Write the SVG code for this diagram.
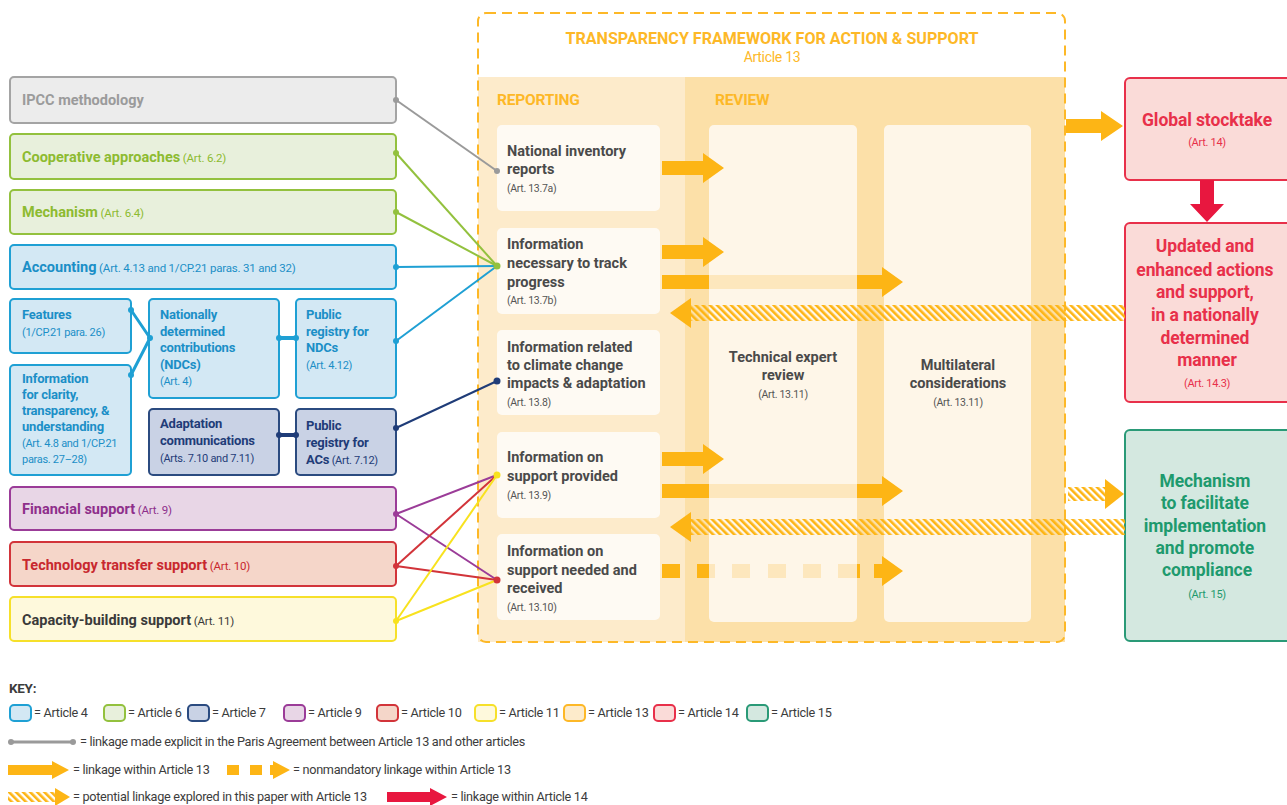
<svg xmlns="http://www.w3.org/2000/svg" width="1287" height="805" viewBox="0 0 1287 805">
  <defs>
    <style>
      text { font-family: Roboto, "Liberation Sans", "DejaVu Sans", sans-serif; }
      .b { font-weight: 700; }
      .lbl { font-size: 14.5px; font-weight: 700; letter-spacing: 0px; }
      .sm { font-size: 11.5px; font-weight: 400; letter-spacing: -0.2px; }
      .rep { font-size: 14.5px; font-weight: 700; letter-spacing: 0px; fill: #4a4a4a; }
      .repsm { font-size: 10.5px; font-weight: 400; letter-spacing: -0.3px; fill: #555; }
      .nb { font-size: 13px; font-weight: 700; letter-spacing: -0.2px; }
      .ns { font-size: 11px; font-weight: 400; letter-spacing: -0.3px; }
      .big { font-size: 17.5px; font-weight: 700; letter-spacing: -0.1px; }
      .blu { fill: #1b8fc7; }
      .nav { fill: #1f3c78; }
      .key { font-size: 12.7px; letter-spacing: -0.3px; fill: #3c3c3c; }
      .box { stroke-width: 2; }
      .gray { fill: #ececec; stroke: #a4a4a4; }
      .green { fill: #e8f0dc; stroke: #93c13e; }
      .blue { fill: #d3e8f4; stroke: #1fa0d4; }
      .navy { fill: #c9d2e5; stroke: #2b4b80; }
      .purple { fill: #e8d6e6; stroke: #9b3c98; }
      .red { fill: #f5d6c9; stroke: #d2343a; }
      .yellow { fill: #fef9dc; stroke: #f6e02a; }
      .orangeK { fill: #fdebcb; stroke: #fdb827; }
      .pink { fill: #fadbd8; stroke: #e8304a; }
      .teal { fill: #d4e8e0; stroke: #2a9a77; }
      .arr { fill: #fdb515; }
      .fade { fill: #fde7bd; }
      .hatch { fill: url(#hatch); }
      .redarr { fill: #e8173f; }
      .card { fill: #fefaf3; }
      .rcard { fill: #fef6e8; }
    </style>
    <pattern id="hatch" width="5" height="5" patternUnits="userSpaceOnUse" patternTransform="rotate(-45)">
      <rect x="0" y="0" width="2.6" height="5" fill="#fdb515"/>
    </pattern>
  </defs>

  <rect width="1287" height="805" fill="#ffffff"/>

  <!-- Article 13 framework -->
  <g id="framework">
    <rect x="478" y="77" width="207" height="565" fill="#fdebcb"/>
    <rect x="685" y="77" width="380" height="565" fill="#fce0a8"/>
    <rect x="478" y="13" width="587" height="629" rx="8" fill="none" stroke="#fdb827" stroke-width="2" stroke-dasharray="10 6"/>
    <text x="772" y="44" text-anchor="middle" class="b" font-size="16" fill="#fdb827" textLength="413" lengthAdjust="spacingAndGlyphs">TRANSPARENCY FRAMEWORK FOR ACTION &amp; SUPPORT</text>
    <text x="772" y="62" text-anchor="middle" font-size="14" letter-spacing="-0.3" fill="#fdb827">Article 13</text>
    <text x="497" y="105" class="b" font-size="15.5" fill="#fdb827" letter-spacing="-0.2">REPORTING</text>
    <text x="715" y="105" class="b" font-size="15.5" fill="#fdb827" letter-spacing="-0.2">REVIEW</text>
  </g>

  <!-- review bodies -->
  <g id="technical-expert-review">
    <rect x="709" y="125" width="148" height="497" rx="5" class="rcard"/>
    <text x="783" y="362" text-anchor="middle" class="rep">Technical expert</text>
    <text x="783" y="380" text-anchor="middle" class="rep">review</text>
    <text x="783" y="398" text-anchor="middle" class="repsm">(Art. 13.11)</text>
  </g>
  <g id="multilateral-considerations">
    <rect x="884" y="125" width="147" height="497" rx="5" class="rcard"/>
    <text x="958" y="370" text-anchor="middle" class="rep">Multilateral</text>
    <text x="958" y="388" text-anchor="middle" class="rep">considerations</text>
    <text x="958" y="406" text-anchor="middle" class="repsm">(Art. 13.11)</text>
  </g>

  <!-- reporting items -->
  <g id="national-inventory">
    <rect x="497" y="125" width="163" height="86" rx="5" class="card"/>
    <text x="507" y="156" class="rep">National inventory</text>
    <text x="507" y="174" class="rep">reports</text>
    <text x="507" y="192" class="repsm">(Art. 13.7a)</text>
  </g>
  <g id="track-progress">
    <rect x="497" y="228" width="163" height="86" rx="5" class="card"/>
    <text x="507" y="249" class="rep">Information</text>
    <text x="507" y="268" class="rep">necessary to track</text>
    <text x="507" y="287" class="rep">progress</text>
    <text x="507" y="304" class="repsm">(Art. 13.7b)</text>
  </g>
  <g id="impacts-adaptation">
    <rect x="497" y="330" width="163" height="85" rx="5" class="card"/>
    <text x="507" y="352" class="rep">Information related</text>
    <text x="507" y="370" class="rep">to climate change</text>
    <text x="507" y="388" class="rep">impacts &amp; adaptation</text>
    <text x="507" y="406" class="repsm">(Art. 13.8)</text>
  </g>
  <g id="support-provided">
    <rect x="497" y="432" width="163" height="86" rx="5" class="card"/>
    <text x="507" y="462" class="rep">Information on</text>
    <text x="507" y="481" class="rep">support provided</text>
    <text x="507" y="499" class="repsm">(Art. 13.9)</text>
  </g>
  <g id="support-needed">
    <rect x="497" y="534" width="163" height="86" rx="5" class="card"/>
    <text x="507" y="556" class="rep">Information on</text>
    <text x="507" y="575" class="rep">support needed and</text>
    <text x="507" y="593" class="rep">received</text>
    <text x="507" y="611" class="repsm">(Art. 13.10)</text>
  </g>

  <!-- left-hand articles -->
  <g id="ipcc">
    <rect x="10" y="77" width="386" height="46" rx="4" class="box gray"/>
    <text x="22" y="105" class="lbl" fill="#9b9b9b">IPCC methodology</text>
  </g>
  <g id="cooperative-approaches">
    <rect x="10" y="134" width="386" height="45" rx="4" class="box green"/>
    <text x="22" y="162" fill="#8dbb30"><tspan class="lbl">Cooperative approaches</tspan><tspan class="sm"> (Art. 6.2)</tspan></text>
  </g>
  <g id="mechanism-64">
    <rect x="10" y="190" width="386" height="44" rx="4" class="box green"/>
    <text x="22" y="217" fill="#8dbb30"><tspan class="lbl">Mechanism</tspan><tspan class="sm"> (Art. 6.4)</tspan></text>
  </g>
  <g id="accounting">
    <rect x="10" y="245" width="386" height="44" rx="4" class="box blue"/>
    <text x="22" y="272" class="blu"><tspan class="lbl">Accounting</tspan><tspan class="sm"> (Art. 4.13 and 1/CP.21 paras. 31 and 32)</tspan></text>
  </g>
  <g id="features">
    <rect x="10" y="299" width="121" height="54" rx="4" class="box blue"/>
    <text x="22" y="319" class="blu nb">Features</text>
    <text x="22" y="336" class="blu ns">(1/CP.21 para. 26)</text>
  </g>
  <g id="clarity">
    <rect x="10" y="365" width="121" height="110" rx="4" class="box blue"/>
    <text class="blu nb">
      <tspan x="22" y="383">Information</tspan>
      <tspan x="22" y="399">for clarity,</tspan>
      <tspan x="22" y="415">transparency, &amp;</tspan>
      <tspan x="22" y="431">understanding</tspan>
    </text>
    <text class="blu ns">
      <tspan x="22" y="447">(Art. 4.8 and 1/CP.21</tspan>
      <tspan x="22" y="463">paras. 27–28)</tspan>
    </text>
  </g>
  <g id="ndcs">
    <rect x="149" y="299" width="130" height="99" rx="4" class="box blue"/>
    <text class="blu nb">
      <tspan x="160" y="319">Nationally</tspan>
      <tspan x="160" y="336">determined</tspan>
      <tspan x="160" y="352">contributions</tspan>
      <tspan x="160" y="369">(NDCs)</tspan>
    </text>
    <text x="160" y="385" class="blu ns">(Art. 4)</text>
  </g>
  <g id="registry-ndcs">
    <rect x="296" y="299" width="100" height="99" rx="4" class="box blue"/>
    <text class="blu nb">
      <tspan x="306" y="319">Public</tspan>
      <tspan x="306" y="336">registry for</tspan>
      <tspan x="306" y="352">NDCs</tspan>
    </text>
    <text x="306" y="369" class="blu ns">(Art. 4.12)</text>
  </g>
  <g id="adaptation-communications">
    <rect x="149" y="409" width="130" height="66" rx="4" class="box navy"/>
    <text class="nav nb">
      <tspan x="160" y="428">Adaptation</tspan>
      <tspan x="160" y="445">communications</tspan>
    </text>
    <text x="160" y="462" class="nav ns">(Arts. 7.10 and 7.11)</text>
  </g>
  <g id="registry-acs">
    <rect x="296" y="409" width="100" height="66" rx="4" class="box navy"/>
    <text class="nav nb">
      <tspan x="306" y="430">Public</tspan>
      <tspan x="306" y="447">registry for</tspan>
    </text>
    <text x="306" y="464" class="nav"><tspan class="nb">ACs</tspan><tspan class="ns"> (Art. 7.12)</tspan></text>
  </g>
  <g id="financial-support">
    <rect x="10" y="487" width="386" height="43" rx="4" class="box purple"/>
    <text x="22" y="514" fill="#8e2f8b"><tspan class="lbl">Financial support</tspan><tspan class="sm"> (Art. 9)</tspan></text>
  </g>
  <g id="technology-transfer">
    <rect x="10" y="542" width="386" height="44" rx="4" class="box red"/>
    <text x="22" y="570" fill="#c8282e"><tspan class="lbl">Technology transfer support</tspan><tspan class="sm"> (Art. 10)</tspan></text>
  </g>
  <g id="capacity-building">
    <rect x="10" y="597" width="386" height="44" rx="4" class="box yellow"/>
    <text x="22" y="625" fill="#3a3a3a"><tspan class="lbl">Capacity-building support</tspan><tspan class="sm"> (Art. 11)</tspan></text>
  </g>

  <!-- right-hand articles -->
  <g id="global-stocktake">
    <rect x="1125" y="78" width="170" height="102" rx="5" class="box pink"/>
    <text x="1207" y="126" text-anchor="middle" class="big" fill="#e8304a">Global stocktake</text>
    <text x="1207" y="146" text-anchor="middle" font-size="11" letter-spacing="-0.3" fill="#e8304a">(Art. 14)</text>
  </g>
  <g id="updated-actions">
    <rect x="1125" y="223" width="170" height="179" rx="5" class="box pink"/>
    <text text-anchor="middle" class="big" fill="#e8304a">
      <tspan x="1207" y="252">Updated and</tspan>
      <tspan x="1207" y="276">enhanced actions</tspan>
      <tspan x="1207" y="298">and support,</tspan>
      <tspan x="1207" y="321">in a nationally</tspan>
      <tspan x="1207" y="344">determined</tspan>
      <tspan x="1207" y="366">manner</tspan>
    </text>
    <text x="1207" y="387" text-anchor="middle" font-size="11" letter-spacing="-0.3" fill="#e8304a">(Art. 14.3)</text>
  </g>
  <g id="compliance-mechanism">
    <rect x="1125" y="430" width="170" height="211" rx="5" class="box teal"/>
    <text text-anchor="middle" class="big" fill="#1e9a6e">
      <tspan x="1207" y="487">Mechanism</tspan>
      <tspan x="1207" y="509">to facilitate</tspan>
      <tspan x="1207" y="532">implementation</tspan>
      <tspan x="1207" y="554">and promote</tspan>
      <tspan x="1207" y="576">compliance</tspan>
    </text>
    <text x="1207" y="598" text-anchor="middle" font-size="11" letter-spacing="-0.3" fill="#1e9a6e">(Art. 15)</text>
  </g>

  <!-- connectors -->
  <g id="connectors" stroke-width="2" fill="none">
    <line x1="396" y1="100" x2="497" y2="171" stroke="#9a9a9a"/>
    <line x1="396" y1="153" x2="497" y2="266" stroke="#93c13e"/>
    <line x1="396" y1="212" x2="497" y2="266" stroke="#93c13e"/>
    <line x1="396" y1="267" x2="497" y2="266" stroke="#1fa0d4"/>
    <line x1="396" y1="341" x2="497" y2="266" stroke="#1fa0d4"/>
    <line x1="396" y1="428" x2="497" y2="381" stroke="#1f3c78"/>
    <polyline points="131,310 150,338 131,375" stroke="#1fa0d4" stroke-width="3"/>
    <line x1="279" y1="338" x2="296" y2="338" stroke="#1fa0d4" stroke-width="4"/>
    <line x1="279" y1="435" x2="296" y2="435" stroke="#1f3c78" stroke-width="4"/>
    <line x1="396" y1="514" x2="497" y2="475" stroke="#9b3c98"/>
    <line x1="396" y1="514" x2="497" y2="580" stroke="#9b3c98"/>
    <line x1="396" y1="566" x2="497" y2="475" stroke="#d2343a"/>
    <line x1="396" y1="566" x2="497" y2="580" stroke="#d2343a"/>
    <line x1="396" y1="621" x2="497" y2="475" stroke="#f8e21e"/>
    <line x1="396" y1="621" x2="497" y2="580" stroke="#f8e21e"/>
    <g stroke="none">
      <circle cx="396" cy="100" r="3" fill="#9a9a9a"/>
      <circle cx="497" cy="171" r="3" fill="#9a9a9a"/>
      <circle cx="396" cy="153" r="3" fill="#93c13e"/>
      <circle cx="396" cy="212" r="3" fill="#93c13e"/>
      <circle cx="497" cy="266" r="3.5" fill="#93c13e"/>
      <circle cx="396" cy="267" r="3" fill="#1fa0d4"/>
      <circle cx="396" cy="341" r="3" fill="#1fa0d4"/>
      <circle cx="131" cy="310" r="3" fill="#1fa0d4"/>
      <circle cx="131" cy="375" r="3" fill="#1fa0d4"/>
      <circle cx="150" cy="338" r="3" fill="#1fa0d4"/>
      <circle cx="279" cy="338" r="3" fill="#1fa0d4"/>
      <circle cx="296" cy="338" r="3" fill="#1fa0d4"/>
      <circle cx="279" cy="435" r="3" fill="#1f3c78"/>
      <circle cx="296" cy="435" r="3" fill="#1f3c78"/>
      <circle cx="396" cy="428" r="3" fill="#1f3c78"/>
      <circle cx="497" cy="381" r="3.5" fill="#1f3c78"/>
      <circle cx="396" cy="514" r="3" fill="#9b3c98"/>
      <circle cx="396" cy="566" r="3" fill="#d2343a"/>
      <circle cx="396" cy="621" r="3" fill="#f8e21e"/>
      <circle cx="497" cy="475" r="3.5" fill="#f8e21e"/>
      <circle cx="497" cy="580" r="3.5" fill="#d2343a"/>
    </g>

    <!-- linkages within Article 13 -->
    <g stroke="none">
      <path class="arr" d="M662,161 H703 V153 L724,168 L703,183 V175 H662 Z"/>
      <path class="arr" d="M662,245 H703 V237 L724,252 L703,267 V259 H662 Z"/>
      <rect class="arr" x="662" y="275" width="47" height="14"/>
      <rect class="fade" x="709" y="275" width="148" height="14"/>
      <path class="arr" d="M857,275 H882 V267 L903,282 L882,297 V289 H857 Z"/>
      <path class="arr" d="M662,452 H703 V444 L724,459 L703,474 V466 H662 Z"/>
      <rect class="arr" x="662" y="484" width="47" height="14"/>
      <rect class="fade" x="709" y="484" width="148" height="14"/>
      <path class="arr" d="M857,484 H882 V476 L903,491 L882,506 V498 H857 Z"/>
      <!-- nonmandatory linkage -->
      <rect class="arr" x="662" y="564" width="18" height="14"/>
      <rect class="arr" x="697" y="564" width="12" height="14"/>
      <rect class="fade" x="709" y="564" width="6" height="14"/>
      <rect class="fade" x="732" y="564" width="18" height="14"/>
      <rect class="fade" x="768" y="564" width="18" height="14"/>
      <rect class="fade" x="803" y="564" width="18" height="14"/>
      <rect class="fade" x="838" y="564" width="19" height="14"/>
      <rect class="arr" x="857" y="564" width="3" height="14"/>
      <path class="arr" d="M874,564 H882 V556 L903,571 L882,586 V578 H874 Z"/>
      <!-- to global stocktake -->
      <path class="arr" d="M1066,119 H1101 V111 L1123,126 L1101,141 V133 H1066 Z"/>
      <!-- potential linkages -->
      <rect class="hatch" x="690" y="305" width="435" height="16"/>
      <path class="arr" d="M670,313 L691,298 V328 Z"/>
      <rect class="hatch" x="690" y="519" width="435" height="16"/>
      <path class="arr" d="M670,527 L691,512 V542 Z"/>
      <rect class="hatch" x="1068" y="487" width="38" height="14"/>
      <path class="arr" d="M1105,479 L1124,494 L1105,509 Z"/>
      <!-- linkage within Article 14 -->
      <path class="redarr" d="M1200,180 H1214 V204 H1224 L1207,222 L1190,204 H1200 Z"/>
    </g>
  </g>

  <!-- key -->
  <g id="key">
    <text x="9" y="693" class="b" font-size="13.5" letter-spacing="-0.3" fill="#3c3c3c">KEY:</text>
    <rect x="10" y="705" width="21" height="16" rx="4" class="box blue"/>
    <text x="34" y="717" class="key">= Article 4</text>
    <rect x="104" y="705" width="21" height="16" rx="4" class="box green"/>
    <text x="128" y="717" class="key">= Article 6</text>
    <rect x="188" y="705" width="21" height="16" rx="4" class="box navy"/>
    <text x="212" y="717" class="key">= Article 7</text>
    <rect x="284" y="705" width="21" height="16" rx="4" class="box purple"/>
    <text x="308" y="717" class="key">= Article 9</text>
    <rect x="377" y="705" width="21" height="16" rx="4" class="box red"/>
    <text x="401" y="717" class="key">= Article 10</text>
    <rect x="475" y="705" width="21" height="16" rx="4" class="box yellow"/>
    <text x="499" y="717" class="key">= Article 11</text>
    <rect x="564" y="705" width="21" height="16" rx="4" class="box orangeK"/>
    <text x="588" y="717" class="key">= Article 13</text>
    <rect x="654" y="705" width="21" height="16" rx="4" class="box pink"/>
    <text x="678" y="717" class="key">= Article 14</text>
    <rect x="747" y="705" width="21" height="16" rx="4" class="box teal"/>
    <text x="771" y="717" class="key">= Article 15</text>

    <line x1="11" y1="742" x2="73" y2="742" stroke="#9a9a9a" stroke-width="3"/>
    <circle cx="11" cy="742" r="3" fill="#9a9a9a"/>
    <circle cx="73" cy="742" r="3" fill="#9a9a9a"/>
    <text x="80" y="746" class="key">= linkage made explicit in the Paris Agreement between Article 13 and other articles</text>

    <path class="arr" d="M8,765 H52 V761 L69,770 L52,779 V775 H8 Z"/>
    <text x="73" y="774" class="key">= linkage within Article 13</text>
    <rect class="arr" x="227" y="765" width="12" height="10"/>
    <rect class="arr" x="250" y="765" width="12" height="10"/>
    <path class="arr" d="M270,765 H273 V761 L290,770 L273,779 V775 H270 Z"/>
    <text x="293" y="774" class="key">= nonmandatory linkage within Article 13</text>

    <rect class="hatch" x="8" y="792" width="48" height="10"/>
    <path class="arr" d="M55,788 L70,797 L55,806 Z"/>
    <text x="73" y="801" class="key">= potential linkage explored in this paper with Article 13</text>
    <path class="redarr" d="M387,792 H430 V788 L447,797 L430,806 V802 H387 Z"/>
    <text x="451" y="801" class="key">= linkage within Article 14</text>
  </g>
</svg>
